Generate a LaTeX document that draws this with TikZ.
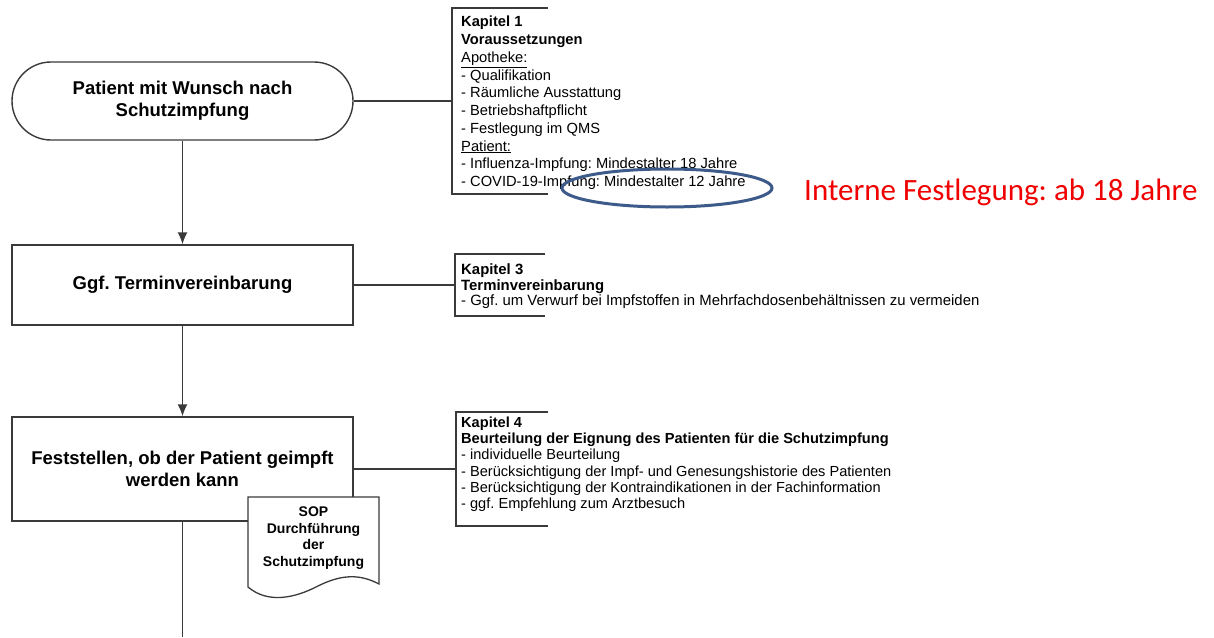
\documentclass[tikz,border=0pt]{standalone}
\usepackage{fontspec}
\setmainfont{Liberation Sans}
\newfontfamily\calib{Carlito}
\usetikzlibrary{arrows.meta}
\definecolor{lineg}{HTML}{3A3A3A}
\definecolor{ovalblue}{HTML}{3D5B8A}
\definecolor{notered}{HTML}{F00000}
\frenchspacing
\begin{document}
\begin{tikzpicture}[x=1pt,y=-1pt,
  proc/.style={draw=lineg, line width=1.4pt, fill=white, rectangle, inner sep=0pt,
    minimum width=341pt, align=center, font=\bfseries\fontsize{18.5}{22}\selectfont},
  term/.style={proc, rounded corners=39pt},
  conn/.style={draw=lineg, line width=1.5pt},
  arr/.style={conn, -{Latex[length=12pt,width=10pt]}},
  brk/.style={draw=lineg, line width=1.4pt},
  note/.style={anchor=north west, inner sep=0pt, align=left},
  sopshape/.style={draw=lineg, line width=1.3pt, fill=white},
  soptext/.style={inner sep=0pt, align=center, font=\bfseries\fontsize{14}{16.8}\selectfont},
  oval/.style={draw=ovalblue, line width=3pt},
  remark/.style={text=notered, font=\calib\fontsize{31}{36}\selectfont, anchor=west, inner sep=0pt}
]
\useasboundingbox[fill=white] (0,0) rectangle (1214,637);

% --- flow nodes
\node[term, minimum height=78pt] (start) at (182.5,101) {Patient mit Wunsch nach\\Schutzimpfung};
\node[proc, minimum height=80pt] (termin) at (182.5,285) {Ggf. Terminvereinbarung};
\node[proc, minimum height=104pt] (check) at (182.5,469) {Feststellen, ob der Patient geimpft\\werden kann};

% --- document shape (SOP)
\path[sopshape] (248,497) -- (379,497) -- (379,584)
  .. controls (360,574) and (342,574) .. (318,586)
  .. controls (295,598) and (268,604) .. (248,587) -- cycle;
\node[soptext] (sop) at (313.5,538) {SOP\\Durchführung\\der\\Schutzimpfung};

% --- arrows between steps
\draw[arr] (start.south) -- (termin.north);
\draw[arr] (termin.south) -- (check.north);
\coordinate (bottomend) at (182.5,637);
\draw[conn] (check.south) -- (bottomend);

% --- chapter brackets
\coordinate (b1) at (452,101);
\coordinate (b3) at (455,285);
\coordinate (b4) at (456,469);
\draw[conn] (start.east) -- (b1);
\draw[conn] (termin.east) -- (b3);
\draw[conn] (check.east) -- (b4);
\draw[brk] (548,8) -| (452,194) -- (548,194);
\draw[brk] (545,254) -| (455,316) -- (545,316);
\draw[brk] (548,412) -| (456,526) -- (548,526);

\node[note, font=\fontsize{14.7}{17.75}\selectfont] (k1) at (461,16) {%
\textbf{Kapitel 1}\\
\textbf{Voraussetzungen}\\
\underline{Apotheke:}\\
- Qualifikation\\
- Räumliche Ausstattung\\
- Betriebshaftpflicht\\
- Festlegung im QMS\\
\underline{Patient:}\\
- Influenza-Impfung: Mindestalter 18 Jahre\\
- COVID-19-Impfung: Mindestalter 12 Jahre};

\node[note, font=\fontsize{14.9}{15.5}\selectfont] (k3) at (461,263.5) {%
\textbf{Kapitel 3}\\
\textbf{Terminvereinbarung}\\
- Ggf. um Verwurf bei Impfstoffen in Mehrfachdosenbehältnissen zu vermeiden};

\node[note, font=\fontsize{14.6}{16.3}\selectfont] (k4) at (461,416.5) {%
\textbf{Kapitel 4}\\
\textbf{Beurteilung der Eignung des Patienten für die Schutzimpfung}\\
- individuelle Beurteilung\\
- Berücksichtigung der Impf- und Genesungshistorie des Patienten\\
- Berücksichtigung der Kontraindikationen in der Fachinformation\\
- ggf. Empfehlung zum Arztbesuch};

% --- annotation
\draw[oval] (667,188) ellipse [x radius=105, y radius=19];
\node[remark] (remark) at (804,192) {Interne Festlegung: ab 18 Jahre};
\end{tikzpicture}
\end{document}
